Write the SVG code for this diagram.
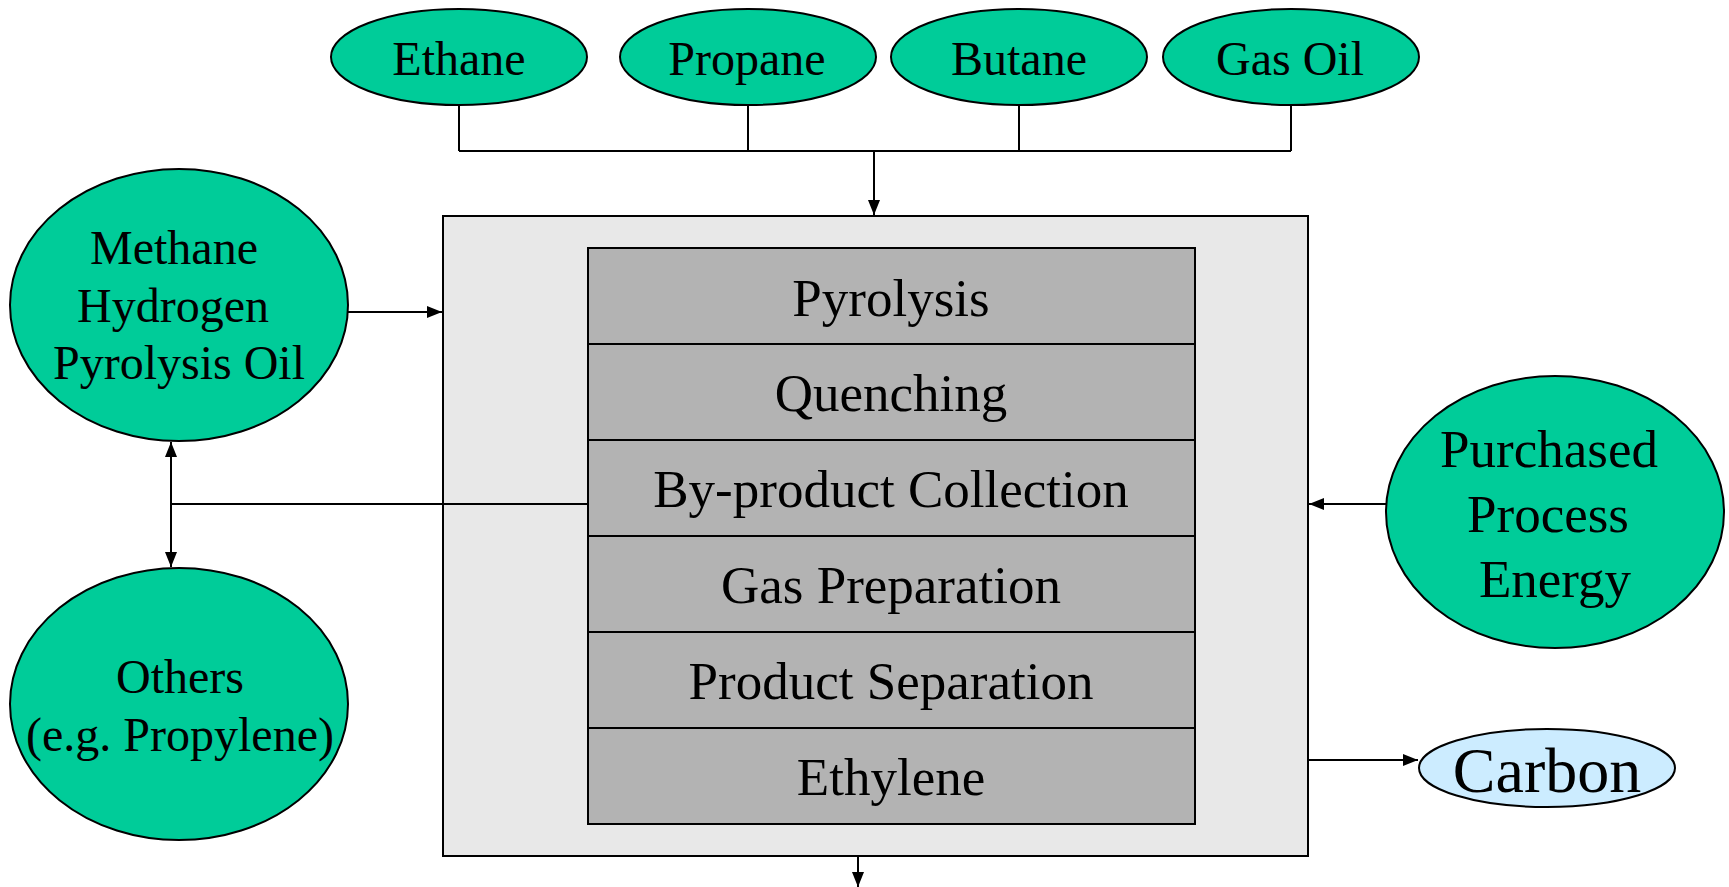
<svg xmlns="http://www.w3.org/2000/svg" width="1729" height="887" viewBox="0 0 1729 887">
<style>
.g{fill:#00CC99;stroke:#000;stroke-width:2}
.t{font-family:"Liberation Serif","Times New Roman",serif;fill:#000;text-anchor:middle}
.f48{font-size:48px}
.f53{font-size:53px}
.row{fill:#B3B3B3;stroke:#000;stroke-width:2}
.c{fill:none;stroke:#000;stroke-width:2}
</style>
<defs>
<marker id="ah" markerUnits="userSpaceOnUse" markerWidth="16" markerHeight="12" refX="15" refY="6" orient="auto-start-reverse">
<path d="M0,0 L15,6 L0,12 z" fill="#000"/>
</marker>
</defs>
<rect width="1729" height="887" fill="#fff"/>
<g id="process">
<rect x="443" y="216" width="865" height="640" fill="#E8E8E8" stroke="#000" stroke-width="2"/>
</g>
<g id="connectors">
<path class="c" d="M459,105 V151 M748,105 V151 M1019,105 V151 M1291,105 V151 M459,151 H1291"/>
<line class="c" x1="874" y1="151" x2="874" y2="215" marker-end="url(#ah)"/>
<line class="c" x1="348" y1="312" x2="442" y2="312" marker-end="url(#ah)"/>
<line class="c" x1="588" y1="504" x2="171" y2="504"/>
<line class="c" x1="171" y1="442" x2="171" y2="567" marker-start="url(#ah)" marker-end="url(#ah)"/>
<line class="c" x1="1386" y1="504" x2="1309" y2="504" marker-end="url(#ah)"/>
<line class="c" x1="1308" y1="760" x2="1418" y2="760" marker-end="url(#ah)"/>
<line class="c" x1="858" y1="856" x2="858" y2="887" marker-end="url(#ah)"/>
</g>
<g id="ethane"><ellipse class="g" cx="459" cy="57" rx="128" ry="48"/><text class="t f48" x="459" y="75">Ethane</text></g>
<g id="propane"><ellipse class="g" cx="748" cy="57" rx="128" ry="48"/><text class="t f48" x="747" y="75">Propane</text></g>
<g id="butane"><ellipse class="g" cx="1019" cy="57" rx="128" ry="48"/><text class="t f48" x="1019" y="75">Butane</text></g>
<g id="gasoil"><ellipse class="g" cx="1291" cy="57" rx="128" ry="48"/><text class="t f48" x="1290" y="75">Gas Oil</text></g>
<g id="methane"><ellipse class="g" cx="179" cy="305" rx="169" ry="136"/>
<text class="t f48" x="174" y="264">Methane</text>
<text class="t f48" x="173" y="322">Hydrogen</text>
<text class="t f48" x="179" y="379">Pyrolysis Oil</text></g>
<g id="others"><ellipse class="g" cx="179" cy="704" rx="169" ry="136"/>
<text class="t f48" x="180" y="693">Others</text>
<text class="t f48" x="180" y="751">(e.g. Propylene)</text></g>
<g id="energy"><ellipse class="g" cx="1555" cy="512" rx="169" ry="136"/>
<text class="t f53" x="1549" y="467">Purchased</text>
<text class="t f53" x="1548" y="532">Process</text>
<text class="t f53" x="1555" y="597">Energy</text></g>
<g id="carbon"><ellipse cx="1547" cy="768" rx="128" ry="39" fill="#CCECFF" stroke="#000" stroke-width="2"/>
<text class="t" style="font-size:64px" x="1547" y="792">Carbon</text></g>
<g id="stack">
<rect class="row" x="588" y="248" width="607" height="96"/>
<rect class="row" x="588" y="344" width="607" height="96"/>
<rect class="row" x="588" y="440" width="607" height="96"/>
<rect class="row" x="588" y="536" width="607" height="96"/>
<rect class="row" x="588" y="632" width="607" height="96"/>
<rect class="row" x="588" y="728" width="607" height="96"/>
<text class="t f53" x="891" y="316">Pyrolysis</text>
<text class="t f53" x="891" y="411">Quenching</text>
<text class="t f53" x="891" y="507">By-product Collection</text>
<text class="t f53" x="891" y="603">Gas Preparation</text>
<text class="t f53" x="891" y="699">Product Separation</text>
<text class="t f53" x="891" y="795">Ethylene</text>
</g>
</svg>
